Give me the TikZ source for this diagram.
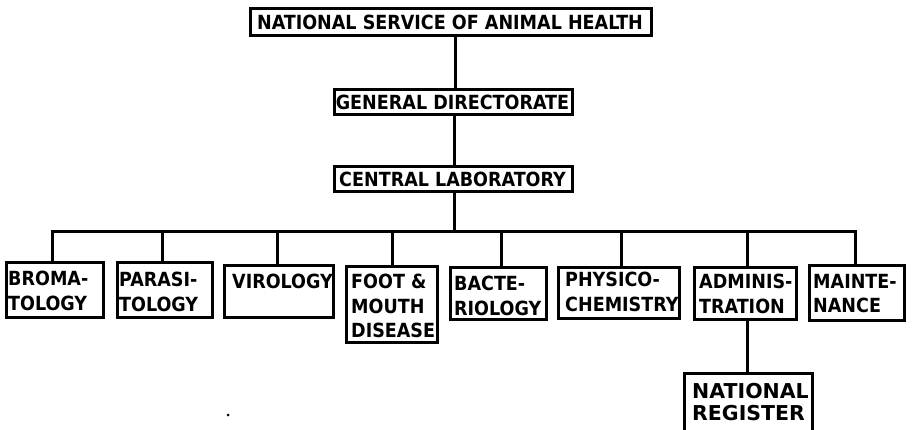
\documentclass[tikz,border=0pt]{standalone}
\usepackage{fontspec}
\setmainfont{DejaVu Sans Condensed}[BoldFont={DejaVu Sans Condensed Bold}]
\newfontfamily\widebold{DejaVu Sans Bold}
\usetikzlibrary{fit}
\begin{document}
\begin{tikzpicture}[x=1pt,y=-1pt,
  box/.style={draw, line width=3pt, rectangle, inner sep=0pt, outer sep=0pt},
  toptxt/.style={font=\bfseries\fontsize{19.5}{22}\selectfont, inner sep=0pt},
  lbl/.style={font=\bfseries\fontsize{19.5}{24.5}\selectfont, align=left, inner sep=0pt, anchor=north west},
  ln/.style={line width=3pt}]
\fill[white] (0,0) rectangle (916,430);
\useasboundingbox (0,0) rectangle (916,430);
\clip (0,0) rectangle (916,430);

% upper chain
\node[box, fit={(250,9) (651,36)}] (top) {};
\node[box, fit={(334,90) (572,115)}] (gd) {};
\node[box, fit={(334,167) (572,192)}] (cl) {};
\node[toptxt] (toplbl) at (450,22.5) {NATIONAL SERVICE OF ANIMAL HEALTH};
\node[toptxt] (gdlbl) at (452.5,102.5) {GENERAL DIRECTORATE};
\node[toptxt] (cllbl) at (452.5,179.5) {CENTRAL LABORATORY};

% bus junctions
\coordinate (bus) at (454,232);
\coordinate (j1) at (52,232);
\coordinate (j2) at (162,232);
\coordinate (j3) at (277,232);
\coordinate (j4) at (392,232);
\coordinate (j5) at (501,232);
\coordinate (j6) at (621,232);
\coordinate (j7) at (747,232);
\coordinate (j8) at (855,232);

% lower boxes
\node[box, fit={(6,263) (103,318)}] (b1) {};
\node[box, fit={(117,263) (212,318)}] (b2) {};
\node[box, fit={(224,266) (333,318)}] (b3) {};
\node[box, fit={(346,267) (437,343)}] (b4) {};
\node[box, fit={(450,268) (546,320)}] (b5) {};
\node[box, fit={(558,268) (679,319)}] (b6) {};
\node[box, fit={(694,268) (796,320)}] (b7) {};
\node[box, fit={(809,266) (904,321)}] (b8) {};
\node[box, fit={(684,374) (812,440)}] (nr) {};

% labels
\node[lbl] (t1) at (8,271) {BROMA-\\TOLOGY};
\node[lbl] (t2) at (119,272) {PARASI-\\TOLOGY};
\node[lbl] (t3) at (232,274) {VIROLOGY};
\node[lbl] (t4) at (351,274) {FOOT \&\\MOUTH\\DISEASE};
\node[lbl] (t5) at (454,276) {BACTE-\\RIOLOGY};
\node[lbl] (t6) at (565,272) {PHYSICO-\\CHEMISTRY};
\node[lbl] (t7) at (699,274) {ADMINIS-\\TRATION};
\node[lbl] (t8) at (813,274) {MAINTE-\\NANCE};
\node[lbl, font=\widebold\fontsize{20.5}{22}\selectfont] (t9) at (692,383) {NATIONAL\\REGISTER};

% connectors
\draw[ln] (top.south -| gd.north) ++(2,0) coordinate (a0) -- (a0 |- gd.north);
\draw[ln] (gd.south -| bus) -- (cl.north -| bus);
\draw[ln] (cl.south -| bus) -- (bus);
\draw[ln] (j1 |- b1.north) -- (j1) -- (j8) -- (j8 |- b8.north);
\foreach \j/\b in {j2/b2,j3/b3,j4/b4,j5/b5,j6/b6,j7/b7}
  \draw[ln] (\j) -- (\j |- \b.north);
\draw[ln] (j7 |- b7.south) -- (j7 |- nr.north);

% stray dot
\fill (228,415) circle (1.5);
\end{tikzpicture}
\end{document}
